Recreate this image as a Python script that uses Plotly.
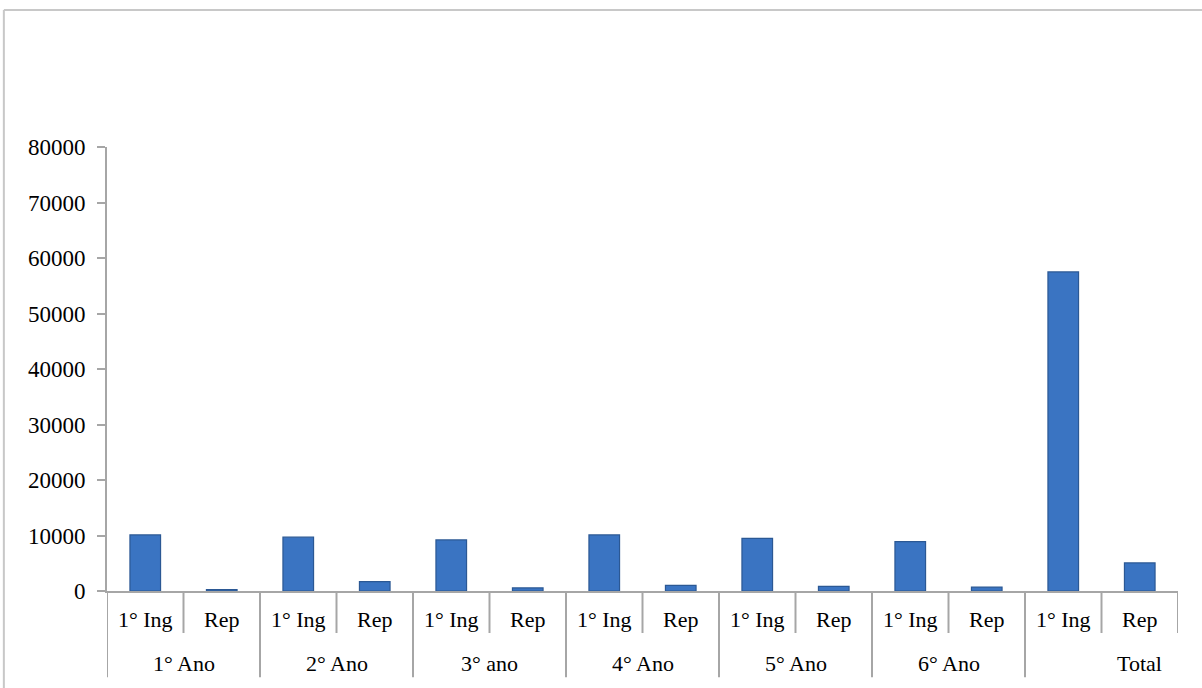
import plotly.graph_objects as go

# ---- data ----
years = ["1° Ano", "2° Ano", "3° ano", "4° Ano", "5° Ano", "6° Ano", "Total"]
sub_labels = ["1° Ing", "Rep"]
primeiro_ingresso = [10100, 9700, 9200, 10100, 9500, 8900, 57500]
repetentes = [250, 1700, 550, 1000, 850, 700, 5050]
y_ticks = [0, 10000, 20000, 30000, 40000, 50000, 60000, 70000, 80000]

# flatten into slots
values, ticktext, xs = [], [], []
for i, y in enumerate(years):
    for j, (lab, v) in enumerate(zip(sub_labels, [primeiro_ingresso[i], repetentes[i]])):
        xs.append(2 * i + j)
        values.append(v)
        ticktext.append(lab)

FONT = "Liberation Serif, Times New Roman, serif"
GRAY = "#A6A6A6"

fig = go.Figure()
fig.add_trace(go.Bar(
    x=xs, y=values, width=0.4,
    marker=dict(color="#3A74C2", line=dict(color="#2B5894", width=1.2)),
    hoverinfo="y",
))

shapes = []
n = len(xs)
# sub-row dividers
for k in range(n + 1):
    xb = k - 0.5
    is_group = (k % 2 == 0) and k < n - 1
    shapes.append(dict(type="line", xref="x", yref="paper", x0=xb, x1=xb,
                       y0=0, y1=-0.194 if is_group else -0.0946,
                       line=dict(color=GRAY, width=2)))
# outer chart border (top + left)
shapes.append(dict(type="line", xref="paper", yref="paper", x0=-0.0963, x1=1.05,
                   y0=1.3086, y1=1.3086, line=dict(color="#C8C8C8", width=2)))
shapes.append(dict(type="line", xref="paper", yref="paper", x0=-0.0963, x1=-0.0963,
                   y0=1.3086, y1=-0.3, line=dict(color="#C8C8C8", width=2)))

annotations = []
for i, y in enumerate(years):
    xc = 2 * i + 0.5 if y != "Total" else 2 * i + 1
    annotations.append(dict(x=xc, y=-0.163, xref="x", yref="paper", text=y,
                            showarrow=False, yanchor="middle",
                            font=dict(family=FONT, size=22, color="#000000")))

fig.update_layout(
    width=1202, height=688,
    margin=dict(l=107, r=24, t=147, b=97),
    paper_bgcolor="white", plot_bgcolor="white",
    showlegend=False,
    bargap=0.6,
    shapes=shapes,
    annotations=annotations,
    xaxis=dict(
        range=[-0.5, n - 0.5], tickvals=xs, ticktext=ticktext,
        showgrid=False, zeroline=False, showline=True, linecolor=GRAY, linewidth=2,
        ticks="", ticklabelstandoff=8,
        tickfont=dict(family=FONT, size=22, color="#000000"),
    ),
    yaxis=dict(
        range=[0, 80000], tickvals=y_ticks, ticktext=[str(t) for t in y_ticks],
        showgrid=False, zeroline=False, showline=True, linecolor=GRAY, linewidth=2,
        ticks="outside", ticklen=8, tickcolor=GRAY, tickwidth=2,
        ticklabelstandoff=7,
        tickfont=dict(family=FONT, size=23, color="#000000"),
    ),
)

fig.write_html("out.html", config={"displayModeBar": False},
               post_script="document.body.style.margin='0';document.body.style.overflow='hidden';")
